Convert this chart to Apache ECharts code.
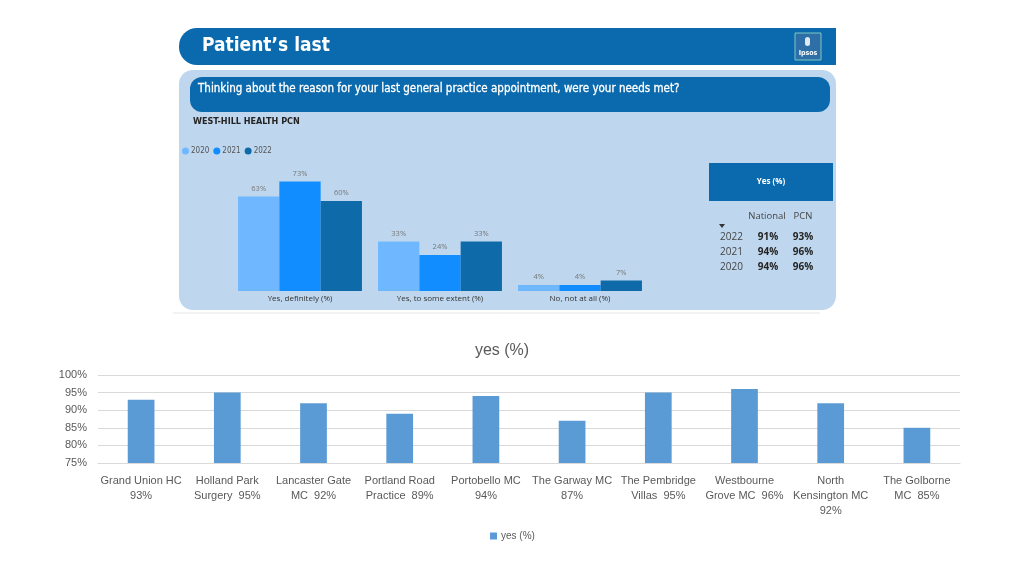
<!DOCTYPE html>
<html><head><meta charset="utf-8">
<script src="https://cdn.jsdelivr.net/npm/echarts@6/dist/echarts.min.js"></script>
<style>html,body{margin:0;padding:0;background:#fff}#c{width:1024px;height:576px}</style>
</head><body><div id="c"></div>
<script>
// ---- top panel data ----
const topCategories = ['Yes, definitely (%)', 'Yes, to some extent (%)', 'No, not at all (%)'];
const years = ['2020', '2021', '2022'];
const vals2020 = [63, 33, 4];
const vals2021 = [73, 24, 4];
const vals2022 = [60, 33, 7];
const tableYears = ['2022', '2021', '2020'];
const tableNational = ['91%', '94%', '94%'];
const tablePCN = ['93%', '96%', '96%'];
// ---- bottom chart data ----
const practices = ['Grand Union HC\n93%', 'Holland Park\nSurgery  95%', 'Lancaster Gate\nMC  92%', 'Portland Road\nPractice  89%', 'Portobello MC\n94%', 'The Garway MC\n87%', 'The Pembridge\nVillas  95%', 'Westbourne\nGrove MC  96%', 'North\nKensington MC\n92%', 'The Golborne\nMC  85%'];
const yesPct = [93, 95, 92, 89, 94, 87, 95, 96, 92, 85];

const DIN = '"DejaVu Sans Condensed", "DejaVu Sans", sans-serif';
const SEG = '"Open Sans", "Noto Sans", sans-serif';
const CAL = '"Liberation Sans", "Open Sans", sans-serif';
const yearColors = ['#6fb8ff', '#118dff', '#0e6aa8'];

const chart = echarts.init(document.getElementById('c'), null, {renderer: 'canvas'});

const graphics = [
  // header bar
  {type: 'rect', shape: {x: 179, y: 28, width: 657, height: 37, r: [18, 0, 0, 18]}, style: {fill: '#0b6aad'}},
  {type: 'text', x: 202, y: 46, style: {text: 'Patient\u2019s last', fill: '#fff', font: 'bold 19px ' + DIN, textVerticalAlign: 'middle'}},
  // logo
  {type: 'rect', shape: {x: 795, y: 33, width: 26, height: 27}, style: {fill: '#2f6fa8', stroke: '#7fc7c0', lineWidth: 1}},
  {type: 'text', x: 808, y: 53, style: {text: 'Ipsos', fill: '#fff', font: 'bold 7px ' + DIN, textAlign: 'center', textVerticalAlign: 'middle'}},
  {type: 'rect', shape: {x: 805, y: 37, width: 5, height: 9, r: 2.5}, style: {fill: '#dfe9f3'}},
  // light panel
  {type: 'rect', shape: {x: 179, y: 70, width: 657, height: 240, r: 14}, style: {fill: '#bed7ee'}},
  {type: 'rect', shape: {x: 190, y: 77, width: 640, height: 35, r: 12}, style: {fill: '#0b6aad'}},
  {type: 'text', x: 198, y: 89, style: {text: 'Thinking about the reason for your last general practice appointment, were your needs met?', fill: '#fff', font: '11.5px ' + DIN, textVerticalAlign: 'middle', stroke: '#fff', lineWidth: 0.3}},
  {type: 'text', x: 193, y: 122, style: {text: 'WEST-HILL HEALTH PCN', fill: '#252423', font: 'bold 9px ' + DIN, textVerticalAlign: 'middle'}},
  // table
  {type: 'rect', shape: {x: 709, y: 163, width: 124, height: 38}, style: {fill: '#0b6aad'}},
  {type: 'text', x: 771, y: 182, style: {text: 'Yes (%)', fill: '#fff', font: 'bold 8px ' + SEG, textAlign: 'center', textVerticalAlign: 'middle'}},
  {type: 'text', x: 767, y: 216, style: {text: 'National', fill: '#444', font: '9.5px ' + SEG, textAlign: 'center', textVerticalAlign: 'middle'}},
  {type: 'text', x: 803, y: 216, style: {text: 'PCN', fill: '#444', font: '9.5px ' + SEG, textAlign: 'center', textVerticalAlign: 'middle'}},
  {type: 'polygon', shape: {points: [[719, 224], [725, 224], [722, 228]]}, style: {fill: '#333'}},
  // separator line
  {type: 'line', shape: {x1: 173, y1: 313, x2: 820, y2: 313}, style: {stroke: '#e6e6e6', lineWidth: 1}},
  // bottom title
  {type: 'text', x: 502, y: 351, style: {text: 'yes (%)', fill: '#595959', font: '16px ' + CAL, textAlign: 'center', textVerticalAlign: 'middle'}}
];
tableYears.forEach((y, i) => {
  const yy = 237 + i * 15;
  graphics.push({type: 'text', x: 720, y: yy, style: {text: y, fill: '#444', font: '10px ' + SEG, textVerticalAlign: 'middle'}});
  graphics.push({type: 'text', x: 768, y: yy, style: {text: tableNational[i], fill: '#252423', font: 'bold 10px ' + SEG, textAlign: 'center', textVerticalAlign: 'middle'}});
  graphics.push({type: 'text', x: 803, y: yy, style: {text: tablePCN[i], fill: '#252423', font: 'bold 10px ' + SEG, textAlign: 'center', textVerticalAlign: 'middle'}});
});

const yearVals = [vals2020, vals2021, vals2022];
const topSeries = years.map((y, i) => ({
  name: y, type: 'bar', xAxisIndex: 0, yAxisIndex: 0,
  data: yearVals[i], barGap: '0%', barCategoryGap: '11.5%',
  itemStyle: {color: yearColors[i]},
  label: {show: true, position: 'top', distance: 4, formatter: '{c}%', color: '#777', fontSize: 7.5, fontFamily: SEG}
}));

chart.setOption({
  animation: false,
  backgroundColor: '#fff',
  graphic: graphics,
  legend: [
    {data: years, left: 182, top: 147, icon: 'circle', itemWidth: 7, itemHeight: 7, itemGap: 4, textStyle: {fontSize: 8, color: '#555', fontFamily: DIN, padding: [0, 0, 0, -3]}, padding: 0},
    {data: ['yes (%)'], left: 490, top: 531, icon: 'rect', itemWidth: 7, itemHeight: 7, itemGap: 4, textStyle: {fontSize: 10, color: '#595959', fontFamily: CAL, padding: [0, 0, 0, -1]}, padding: 0}
  ],
  grid: [
    {left: 230, width: 420, top: 141, height: 150},
    {left: 98, right: 64, top: 375, bottom: 113}
  ],
  xAxis: [
    {type: 'category', gridIndex: 0, data: topCategories, axisLine: {show: false}, axisTick: {show: false},
      axisLabel: {color: '#333', fontSize: 8, fontFamily: SEG, margin: 4}},
    {type: 'category', gridIndex: 1, data: practices, axisLine: {lineStyle: {color: '#d9d9d9'}}, axisTick: {show: false},
      axisLabel: {interval: 0, color: '#595959', fontSize: 11, lineHeight: 15, fontFamily: CAL, margin: 10}}
  ],
  yAxis: [
    {type: 'value', gridIndex: 0, min: 0, max: 100, show: false},
    {type: 'value', gridIndex: 1, min: 75, max: 100, interval: 5, axisLine: {show: false}, axisTick: {show: false},
      splitLine: {lineStyle: {color: '#d9d9d9'}},
      axisLabel: {formatter: '{value}%', color: '#595959', fontSize: 11, fontFamily: CAL, margin: 11}}
  ],
  series: topSeries.concat([{
    name: 'yes (%)', type: 'bar', xAxisIndex: 1, yAxisIndex: 1, data: yesPct, barWidth: '31%',
    itemStyle: {color: '#5b9bd5'}
  }])
});
</script></body></html>
